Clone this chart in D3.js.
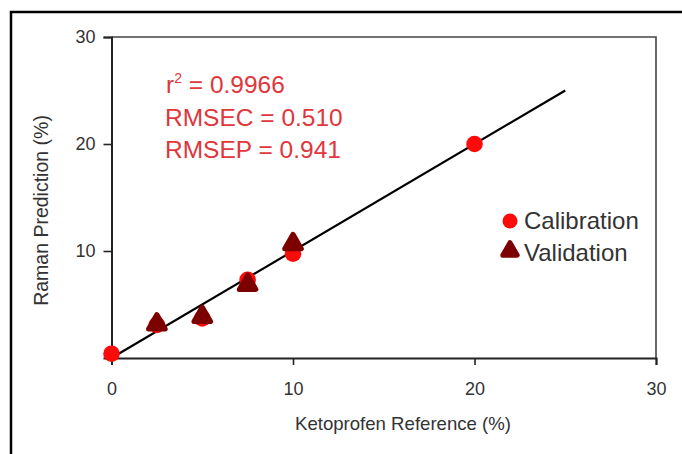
<!DOCTYPE html>
<html><head><meta charset="utf-8">
<script src="https://cdn.jsdelivr.net/npm/d3@7"></script>
<style>
html,body{margin:0;padding:0;background:#fff;}
svg{display:block;font-family:"Liberation Sans",Arial,sans-serif;}
</style></head>
<body>
<svg id="chart" width="682" height="454"></svg>
<script>
// Data
const xTicks = [0, 10, 20, 30];
const yTicks = [10, 20, 30];
const calibrationX = [0, 2.5, 5, 7.5, 10, 20];
const calibrationY = [0.4, 3.1, 3.7, 7.3, 9.75, 20.0];
const validationX = [2.5, 5, 7.5, 10];
const validationY = [3.3, 4.0, 7.0, 10.8];
const fitX = [0, 25];
const fitY = [0, 25];
const statsLines = ["r", "RMSEC = 0.510", "RMSEP = 0.941"];
const legendLabels = ["Calibration", "Validation"];
const xTitle = "Ketoprofen Reference (%)";
const yTitle = "Raman Prediction (%)";

const svg = d3.select("#chart");
const x = d3.scaleLinear().domain([0, 30]).range([111.5, 656]);
const y = d3.scaleLinear().domain([0, 30]).range([358, 37]);

// outer border
svg.append("path").attr("d", "M11,454V12H682").attr("fill", "none")
  .attr("stroke", "#000").attr("stroke-width", 2.5);

// plot frame (top/right)
svg.append("path").attr("d", `M${x(0)},${y(30)}H${x(30)}V${y(0)}`)
  .attr("fill", "none").attr("stroke", "#444").attr("stroke-width", 1.6);

// axes
const xAxis = svg.append("g").attr("transform", `translate(0,${y(0)})`)
  .call(d3.axisBottom(x).tickValues(xTicks).tickSize(7).tickPadding(17).tickFormat(d3.format("d")));
const yAxis = svg.append("g").attr("transform", `translate(${x(0)},0)`)
  .call(d3.axisLeft(y).tickValues(yTicks).tickSize(8).tickPadding(8).tickFormat(d3.format("d")));
[xAxis, yAxis].forEach(g => {
  g.select(".domain").attr("stroke", "#222").attr("stroke-width", 2);
  g.selectAll(".tick line").attr("stroke", "#222").attr("stroke-width", 1.6);
  g.selectAll(".tick text").attr("fill", "#333").attr("font-size", 18)
    .attr("font-family", "'Liberation Sans', Arial, sans-serif");
});

// axis titles
svg.append("text").attr("x", 403).attr("y", 430).attr("text-anchor", "middle")
  .attr("font-size", 18.6).attr("fill", "#333").text(xTitle);
svg.append("text").attr("transform", `translate(48,${(y(0)+y(30))/2 + 13}) rotate(-90)`)
  .attr("text-anchor", "middle").attr("font-size", 19.5).attr("fill", "#333").text(yTitle);

// fit line
svg.append("line").attr("x1", x(fitX[0])).attr("y1", y(fitY[0]))
  .attr("x2", x(fitX[1])).attr("y2", y(fitY[1]))
  .attr("stroke", "#000").attr("stroke-width", 2.2);

// calibration points
const calData = calibrationX.map((v, i) => ({x: v, y: calibrationY[i]}));
const valData = validationX.map((v, i) => ({x: v, y: validationY[i]}));
svg.append("g").selectAll("circle").data(calData).join("circle")
  .attr("cx", d => x(d.x)).attr("cy", d => y(d.y)).attr("r", 8.3)
  .attr("fill", "#ff0a0a");
const tri = d3.symbol().type(d3.symbolTriangle).size(120);
svg.append("g").selectAll("path").data(valData).join("path")
  .attr("d", tri).attr("transform", d => `translate(${x(d.x)},${y(d.y) + 1.5})`)
  .attr("fill", "#7d0000").attr("stroke", "#7d0000").attr("stroke-width", 5)
  .attr("stroke-linejoin", "round");

// statistics text
const statsColor = "#e0363c";
const st = svg.append("g").attr("font-size", 24.5).attr("fill", statsColor);
const t0 = st.append("text").attr("x", 166).attr("y", 92.5);
t0.append("tspan").text(statsLines[0]);
t0.append("tspan").attr("font-size", 14).attr("dy", -10).text("2");
t0.append("tspan").attr("dy", 10).text(" = 0.9966");
st.append("text").attr("x", 165).attr("y", 126).text(statsLines[1]);
st.append("text").attr("x", 165).attr("y", 158).text(statsLines[2]);

// legend
const lg = svg.append("g");
lg.append("circle").attr("cx", 510).attr("cy", 221).attr("r", 7.5).attr("fill", "#ff0a0a");
lg.append("path").attr("d", d3.symbol().type(d3.symbolTriangle).size(90))
  .attr("transform", "translate(510,251)")
  .attr("fill", "#7d0000").attr("stroke", "#7d0000").attr("stroke-width", 5).attr("stroke-linejoin", "round");
lg.selectAll("text").data(legendLabels).join("text")
  .attr("x", 524).attr("y", (d, i) => 229 + i * 32)
  .attr("font-size", 24).attr("fill", "#333").text(d => d);
</script>
</body></html>
